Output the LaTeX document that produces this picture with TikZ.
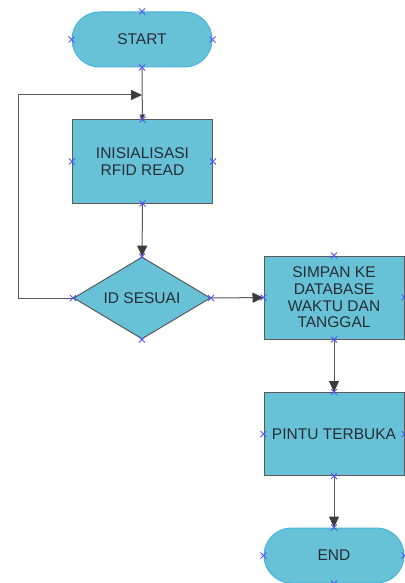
\documentclass[tikz,border=0pt]{standalone}
\usepackage{fontspec}
\setmainfont{Liberation Sans}
\usetikzlibrary{arrows.meta}
\usetikzlibrary{shapes.geometric}
\definecolor{boxfill}{RGB}{103,194,216}
\definecolor{termline}{RGB}{70,178,222}
\definecolor{edgegray}{RGB}{90,90,90}
\definecolor{tipgray}{RGB}{60,60,60}
\definecolor{txtgray}{RGB}{40,45,50}
\definecolor{markblue}{RGB}{85,85,245}

\begin{document}
\begin{tikzpicture}[x=1pt, y=-1pt,
    font=\fontsize{15.5}{16.7}\selectfont,
    terminal/.style={draw=termline, fill=boxfill, line width=1pt, rounded corners=27.5pt,
      minimum width=140pt, minimum height=55pt, inner sep=0pt, text=txtgray},
    process/.style={draw=edgegray, fill=boxfill, line width=1pt,
      minimum width=140pt, minimum height=83pt, inner sep=0pt, align=center, text=txtgray},
    decision/.style={draw=edgegray, fill=boxfill, line width=1pt, diamond, shape aspect=1.67,
      minimum width=137pt, minimum height=82pt, inner sep=0pt, text=txtgray},
    flow/.style={draw=edgegray, line width=1pt, -{Triangle[length=11pt, width=10pt, color=tipgray]}},
    cross/.style={draw=markblue, line width=0.8pt}]
    \useasboundingbox (0,0) rectangle (404,583);

    \node[terminal] (start) at (142,39.5) {START};
    \node[process] (init) at (142.5,161.5) {INISIALISASI\\RFID READ};
    \node[decision] (check) at (142,298) {ID SESUAI};
    \node[process] (save) at (334,297.5) {SIMPAN KE\\DATABASE\\WAKTU DAN\\TANGGAL};
    \node[process] (door) at (334,434) {PINTU TERBUKA};
    \node[terminal] (stop) at (334,555.5) {END};

    \coordinate (loop) at (18,298);
    \coordinate (join) at (142,95);

    \draw[flow, -{Triangle[length=5pt, width=5pt, color=tipgray]}] (start) -- (init);
    \draw[flow] (init) -- (check);
    \draw[flow] (check) -- (save);
    \draw[flow] (save) -- (door);
    \draw[flow] (door) -- (stop);
    \draw[flow] (check.west) -- (loop) |- (join);

    % connection points
    \foreach \n in {start,init,check,save,door,stop}{
      \foreach \a in {north,south,east,west}{
        \draw[cross] (\n.\a) +(-3,-3) -- +(3,3) +(-3,3) -- +(3,-3);
      }
    }
\end{tikzpicture}
\end{document}
